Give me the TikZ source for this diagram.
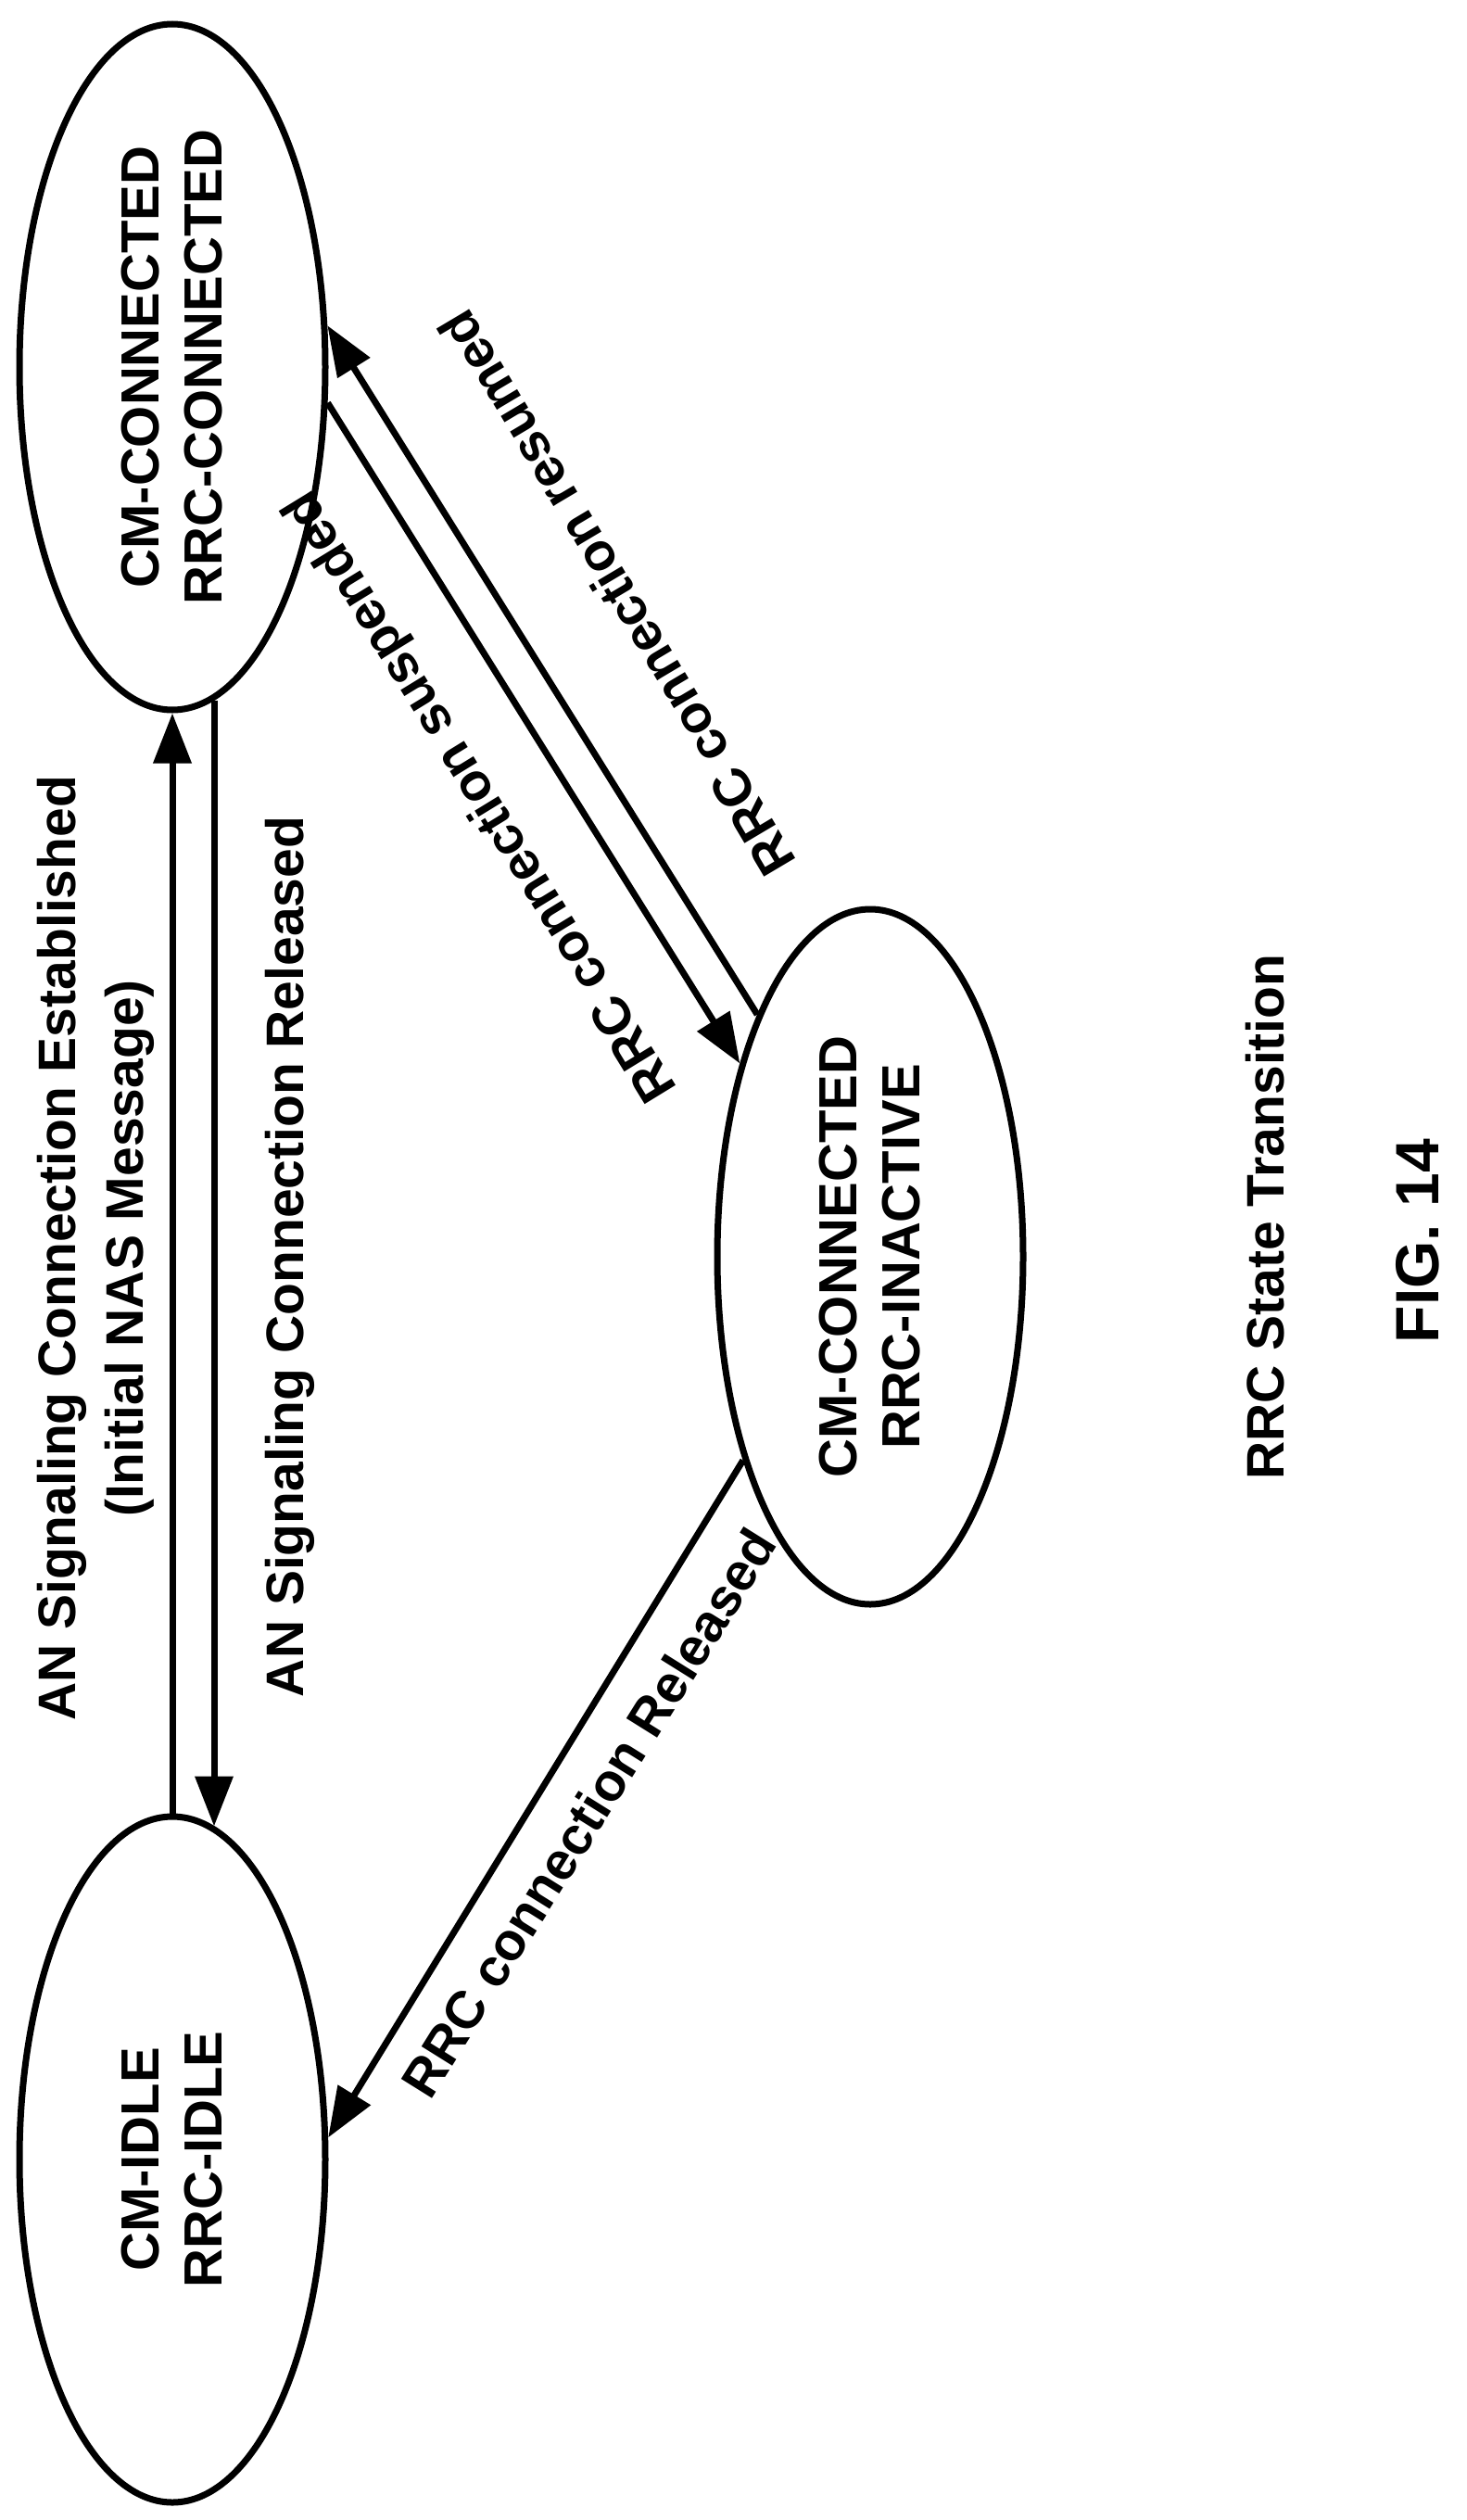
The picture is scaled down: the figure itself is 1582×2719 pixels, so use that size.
\documentclass[tikz,border=0pt]{standalone}
\usepackage{fontspec}
\setmainfont{Liberation Sans}
\usetikzlibrary{arrows.meta, positioning, calc, shapes.geometric}
\tikzset{
  state/.style = {
    draw, ellipse, line width=7pt, minimum width=740pt, minimum height=330pt,
    align=center, font=\fontsize{58}{68}\selectfont\bfseries, rotate=90
  },
  lbl/.style = {align=center, font=\fontsize{57}{73}\selectfont\bfseries},
  arrow/.style = {-{Triangle[length=54pt, width=40pt]}, line width=7pt},
}
\begin{document}
\begin{tikzpicture}[x=1pt, y=-1pt]
    \useasboundingbox (0,0) rectangle (1582,2719);

    % States
    \node[state] (conn) at (186,396) {CM-CONNECTED\\RRC-CONNECTED};
    \node[state, minimum width=750pt] (inact) at (939,1356) {CM-CONNECTED\\RRC-INACTIVE};
    \node[state] (idle) at (186,2330) {CM-IDLE\\RRC-IDLE};

    % Transitions
    \draw[arrow] (idle.east) -- (conn.west);
    \draw[arrow] ($(conn.west)+(45,-14)$) -- ($(idle.east)+(45,14)$);
    \draw[arrow] (conn.-103) -- (inact.34);
    \draw[arrow] (inact.25) -- (conn.-75);
    \draw[arrow] (inact.148) -- (idle.-82);

    % Labels
    \node[lbl, rotate=90] (est) at (103,1347) {AN Signaling Connection Established\\(Initial NAS Message)};
    \node[lbl, rotate=90] (rel) at (313,1356) {AN Signaling Connection Released};
    \node[lbl, rotate=121.5] (susp) at (520,858) {RRC connection suspended};
    \node[lbl, rotate=120.7] (res) at (665,640) {RRC connection resumed};
    \node[lbl, rotate=58] (relrrc) at (635,1956) {RRC connection Released};
    \node[lbl, rotate=90] (title) at (1365,1313) {RRC State Transition};
    \node[lbl, rotate=90, font=\fontsize{66}{78}\selectfont\bfseries] (fig) at (1530,1339) {FIG. 14};
\end{tikzpicture}
\end{document}
